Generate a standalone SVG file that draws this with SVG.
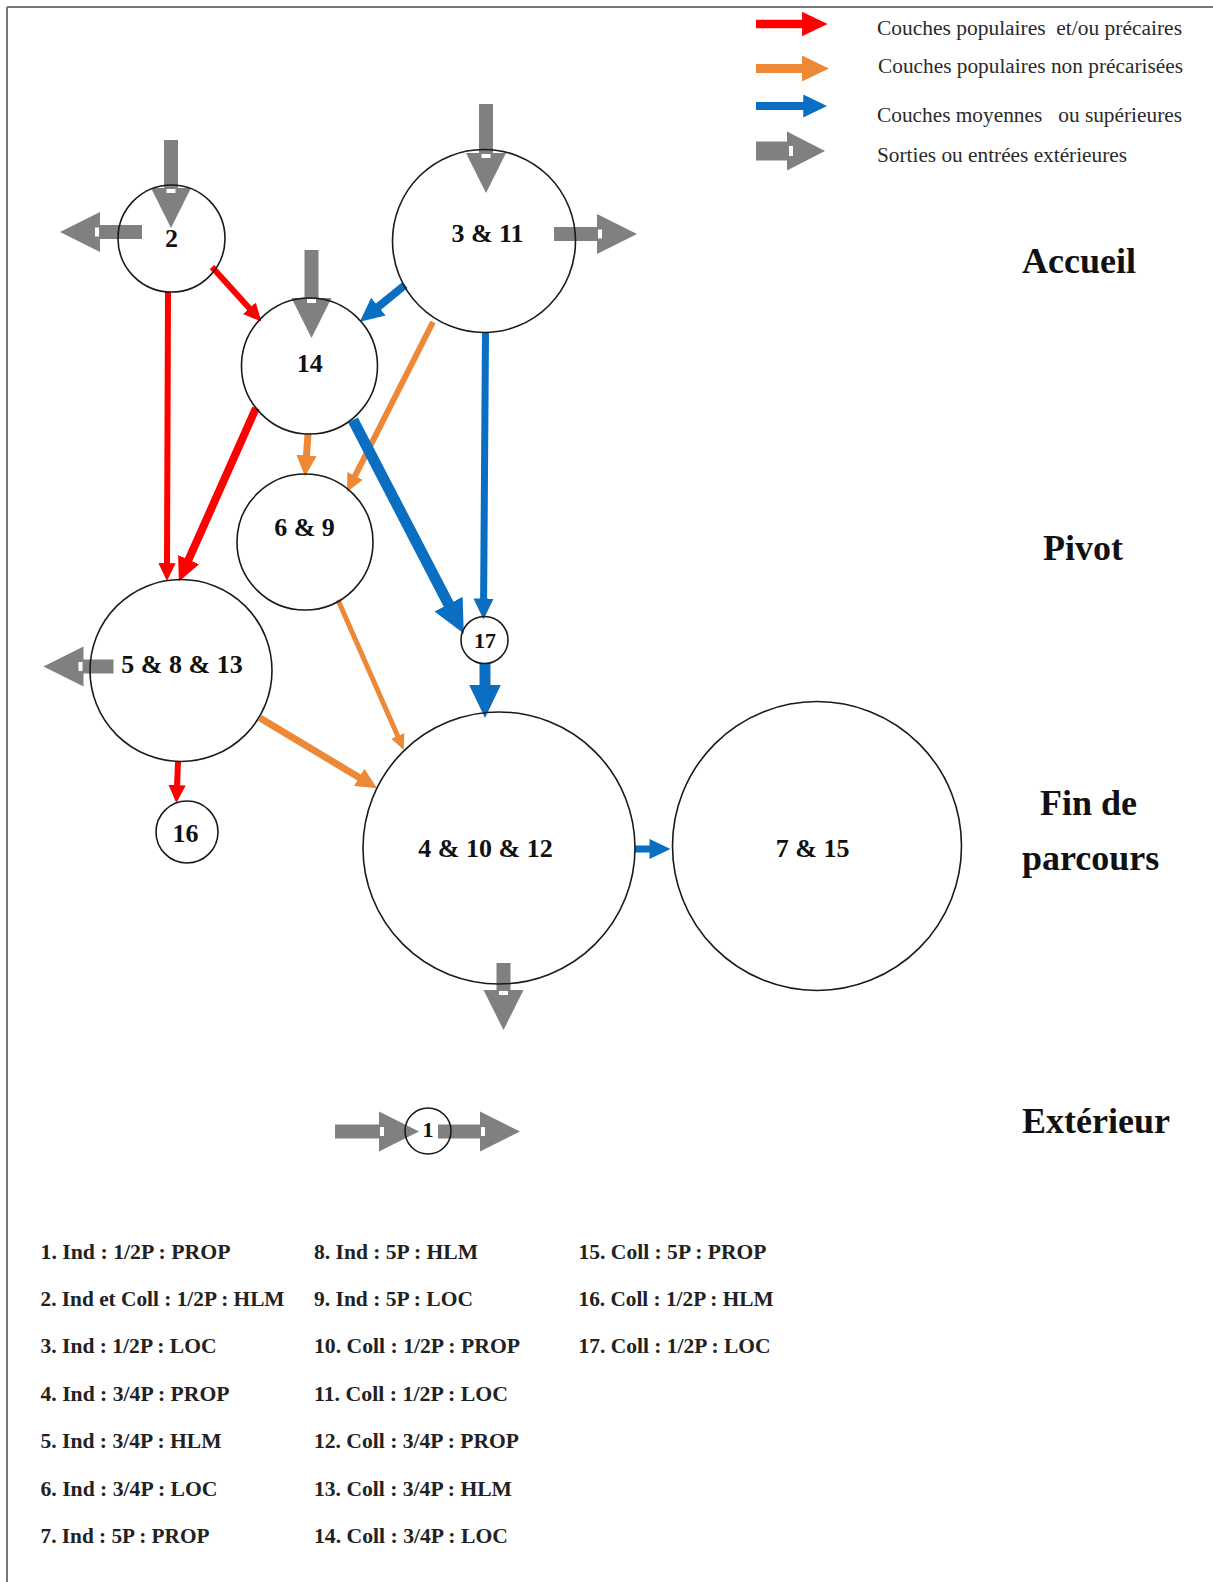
<svg xmlns="http://www.w3.org/2000/svg" xmlns:xlink="http://www.w3.org/1999/xlink" width="1213" height="1582" viewBox="0 0 1213 1582">
<style>
.node circle{fill:none;stroke:#1a1a1a;stroke-width:1.6}
.nl{font-family:"Liberation Serif","Times New Roman",serif;font-weight:bold;font-size:26px;fill:#111;text-anchor:middle}
.sec{font-family:"Liberation Serif","Times New Roman",serif;font-weight:bold;font-size:36px;fill:#111}
.leg{font-family:"Liberation Serif","Times New Roman",serif;font-size:20px;fill:#2a2a2a}
.lst{font-family:"Liberation Serif","Times New Roman",serif;font-weight:bold;font-size:21px;fill:#222}
.red{stroke:#ff0000;fill:none}
.ora{stroke:#ed8936;fill:none}
.blu{stroke:#0a6fc2;fill:none}
.gs{stroke:#808080;stroke-width:14;fill:none}
</style>
<defs>
<marker id="mr" markerUnits="strokeWidth" markerWidth="3" markerHeight="3" refX="0.3" refY="1.25" orient="auto" viewBox="0 0 2.6 2.5"><path d="M0,0 L2.6,1.25 L0,2.5 z" fill="#ff0000"/></marker>
<marker id="mo" markerUnits="strokeWidth" markerWidth="3" markerHeight="3" refX="0.3" refY="1.25" orient="auto" viewBox="0 0 2.6 2.5"><path d="M0,0 L2.6,1.25 L0,2.5 z" fill="#ed8936"/></marker>
<marker id="mb" markerUnits="strokeWidth" markerWidth="3" markerHeight="3" refX="0.3" refY="1.25" orient="auto" viewBox="0 0 2.6 2.5"><path d="M0,0 L2.6,1.25 L0,2.5 z" fill="#0a6fc2"/></marker>
<g id="ghead">
<polygon points="-40,-20 0,0 -40,20" fill="#808080"/>
<rect x="-39" y="-4.5" width="4" height="9" fill="#ffffff"/>
</g>
</defs>
<rect x="0" y="0" width="1213" height="1582" fill="#ffffff"/>
<line x1="7" y1="7" x2="1213" y2="7" stroke="#777" stroke-width="2"/>
<line x1="7" y1="7" x2="7" y2="1582" stroke="#777" stroke-width="2"/>

<g id="legend">
<line class="red" x1="756" y1="24" x2="805" y2="24" stroke-width="8.5" marker-end="url(#mr)"/>
<line class="ora" x1="756" y1="68.5" x2="805" y2="68.5" stroke-width="9" marker-end="url(#mo)"/>
<line class="blu" x1="756" y1="106" x2="806" y2="106" stroke-width="8" marker-end="url(#mb)"/>
<rect x="756" y="141.5" width="33" height="19" fill="#808080"/>
<polygon points="787,131.5 825,151 787,170.5" fill="#808080"/>
<rect x="789" y="146" width="4" height="10" fill="#ffffff"/>
<text class="leg" x="877" y="35" textLength="305" lengthAdjust="spacingAndGlyphs" xml:space="preserve">Couches populaires  et/ou précaires</text>
<text class="leg" x="878" y="73" textLength="305" lengthAdjust="spacingAndGlyphs">Couches populaires non précarisées</text>
<text class="leg" x="877" y="121.5" textLength="305" lengthAdjust="spacingAndGlyphs" xml:space="preserve">Couches moyennes   ou supérieures</text>
<text class="leg" x="877" y="161.5" textLength="250" lengthAdjust="spacingAndGlyphs">Sorties ou entrées extérieures</text>
</g>

<g id="sections">
<text class="sec" x="1022" y="273">Accueil</text>
<text class="sec" x="1043" y="560">Pivot</text>
<text class="sec" x="1040" y="815">Fin de</text>
<text class="sec" x="1022" y="870">parcours</text>
<text class="sec" x="1022" y="1133">Extérieur</text>
</g>

<g id="connectors">
<line class="gs" x1="171" y1="140" x2="171" y2="190"/><use xlink:href="#ghead" transform="translate(171,228) rotate(90)"/>
<line class="gs" x1="142" y1="232" x2="98" y2="232"/><use xlink:href="#ghead" transform="translate(60,232) rotate(180)"/>
<line class="gs" x1="486" y1="104" x2="486" y2="155"/><use xlink:href="#ghead" transform="translate(486,193) rotate(90)"/>
<line class="gs" x1="554" y1="234" x2="599" y2="234"/><use xlink:href="#ghead" transform="translate(637,234)"/>
<line class="gs" x1="311.5" y1="250" x2="311.5" y2="300"/><use xlink:href="#ghead" transform="translate(311.5,338) rotate(90)"/>
<line class="gs" x1="503.5" y1="963" x2="503.5" y2="993"/><use xlink:href="#ghead" transform="translate(503.5,1030) rotate(90)"/>
<line class="gs" x1="335" y1="1131.5" x2="381" y2="1131.5"/><use xlink:href="#ghead" transform="translate(419,1131.5)"/>
<line class="gs" x1="438" y1="1131.5" x2="482" y2="1131.5"/><use xlink:href="#ghead" transform="translate(520,1131.5)"/>
<line class="gs" x1="113.5" y1="666.5" x2="82" y2="666.5"/><use xlink:href="#ghead" transform="translate(43.5,666.5) rotate(180)"/>
<line class="red" x1="212" y1="267" x2="250.7" y2="309.8" stroke-width="6" marker-end="url(#mr)"/>
<line class="red" x1="168" y1="292" x2="167" y2="565.2" stroke-width="6" marker-end="url(#mr)"/>
<line class="red" x1="256" y1="408" x2="187.5" y2="562.2" stroke-width="8" marker-end="url(#mr)"/>
<line class="red" x1="178" y1="762" x2="177" y2="787.2" stroke-width="6" marker-end="url(#mr)"/>
<line class="blu" x1="405" y1="285" x2="376.3" y2="308.4" stroke-width="8" marker-end="url(#mb)"/>
<line class="ora" x1="433" y1="322" x2="354.2" y2="477.7" stroke-width="6" marker-end="url(#mo)"/>
<line class="blu" x1="485.5" y1="332" x2="483.6" y2="600.9" stroke-width="7" marker-end="url(#mb)"/>
<line class="ora" x1="308" y1="434" x2="306.3" y2="457.9" stroke-width="7" marker-end="url(#mo)"/>
<line class="blu" x1="353" y1="420" x2="450.3" y2="607.5" stroke-width="11" marker-end="url(#mb)"/>
<line class="ora" x1="338" y1="600" x2="398.4" y2="737.5" stroke-width="5" marker-end="url(#mo)"/>
<line class="ora" x1="260" y1="718" x2="361.2" y2="778.7" stroke-width="7" marker-end="url(#mo)"/>
<line class="blu" x1="485" y1="663" x2="485" y2="688.7" stroke-width="11" marker-end="url(#mb)"/>
<line class="blu" x1="635" y1="849" x2="651.9" y2="849" stroke-width="7" marker-end="url(#mb)"/>
</g>

<g id="node-2" class="node"><circle cx="171.5" cy="238.5" r="53.5"/><text class="nl" x="171.5" y="247">2</text></g>
<g id="node-3-11" class="node"><circle cx="484" cy="241" r="91.5"/><text class="nl" x="487.5" y="241.5">3 &amp; 11</text></g>
<g id="node-14" class="node"><circle cx="309.5" cy="366" r="68"/><text class="nl" x="309.7" y="372">14</text></g>
<g id="node-6-9" class="node"><circle cx="305" cy="542" r="68"/><text class="nl" x="304.5" y="536">6 &amp; 9</text></g>
<g id="node-5-8-13" class="node"><circle cx="181" cy="670.5" r="91"/><text class="nl" x="182" y="673">5 &amp; 8 &amp; 13</text></g>
<g id="node-16" class="node"><circle cx="187" cy="832" r="31"/><text class="nl" x="185.5" y="842">16</text></g>
<g id="node-17" class="node"><circle cx="484.5" cy="640" r="23.5"/><text class="nl" x="485" y="648" style="font-size:22px">17</text></g>
<g id="node-4-10-12" class="node"><circle cx="499" cy="848" r="136"/><text class="nl" x="485.5" y="857">4 &amp; 10 &amp; 12</text></g>
<g id="node-7-15" class="node"><circle cx="817" cy="846" r="144.5"/><text class="nl" x="812.7" y="856.5">7 &amp; 15</text></g>
<g id="node-1" class="node"><circle cx="428" cy="1131" r="23"/><text class="nl" x="428" y="1137" style="font-size:22px">1</text></g>

<g id="key">
<text class="lst" x="40.5" y="1258.5" textLength="190" lengthAdjust="spacingAndGlyphs">1. Ind : 1/2P : PROP</text>
<text class="lst" x="40.5" y="1305.9" textLength="244" lengthAdjust="spacingAndGlyphs">2. Ind et Coll : 1/2P : HLM</text>
<text class="lst" x="40.5" y="1353.3" textLength="176" lengthAdjust="spacingAndGlyphs">3. Ind : 1/2P : LOC</text>
<text class="lst" x="40.5" y="1400.7" textLength="189" lengthAdjust="spacingAndGlyphs">4. Ind : 3/4P : PROP</text>
<text class="lst" x="40.5" y="1448.1" textLength="181" lengthAdjust="spacingAndGlyphs">5. Ind : 3/4P : HLM</text>
<text class="lst" x="40.5" y="1495.5" textLength="177" lengthAdjust="spacingAndGlyphs">6. Ind : 3/4P : LOC</text>
<text class="lst" x="40.5" y="1542.9" textLength="169" lengthAdjust="spacingAndGlyphs">7. Ind : 5P : PROP</text>
<text class="lst" x="314" y="1258.5" textLength="164" lengthAdjust="spacingAndGlyphs">8. Ind : 5P : HLM</text>
<text class="lst" x="314" y="1305.9" textLength="159" lengthAdjust="spacingAndGlyphs">9. Ind : 5P : LOC</text>
<text class="lst" x="314" y="1353.3" textLength="206" lengthAdjust="spacingAndGlyphs">10. Coll : 1/2P : PROP</text>
<text class="lst" x="314" y="1400.7" textLength="194" lengthAdjust="spacingAndGlyphs">11. Coll : 1/2P : LOC</text>
<text class="lst" x="314" y="1448.1" textLength="205" lengthAdjust="spacingAndGlyphs">12. Coll : 3/4P : PROP</text>
<text class="lst" x="314" y="1495.5" textLength="198" lengthAdjust="spacingAndGlyphs">13. Coll : 3/4P : HLM</text>
<text class="lst" x="314" y="1542.9" textLength="194" lengthAdjust="spacingAndGlyphs">14. Coll : 3/4P : LOC</text>
<text class="lst" x="578.5" y="1258.5" textLength="188" lengthAdjust="spacingAndGlyphs">15. Coll : 5P : PROP</text>
<text class="lst" x="578.5" y="1305.9" textLength="195" lengthAdjust="spacingAndGlyphs">16. Coll : 1/2P : HLM</text>
<text class="lst" x="578.5" y="1353.3" textLength="192" lengthAdjust="spacingAndGlyphs">17. Coll : 1/2P : LOC</text>
</g>
</svg>
